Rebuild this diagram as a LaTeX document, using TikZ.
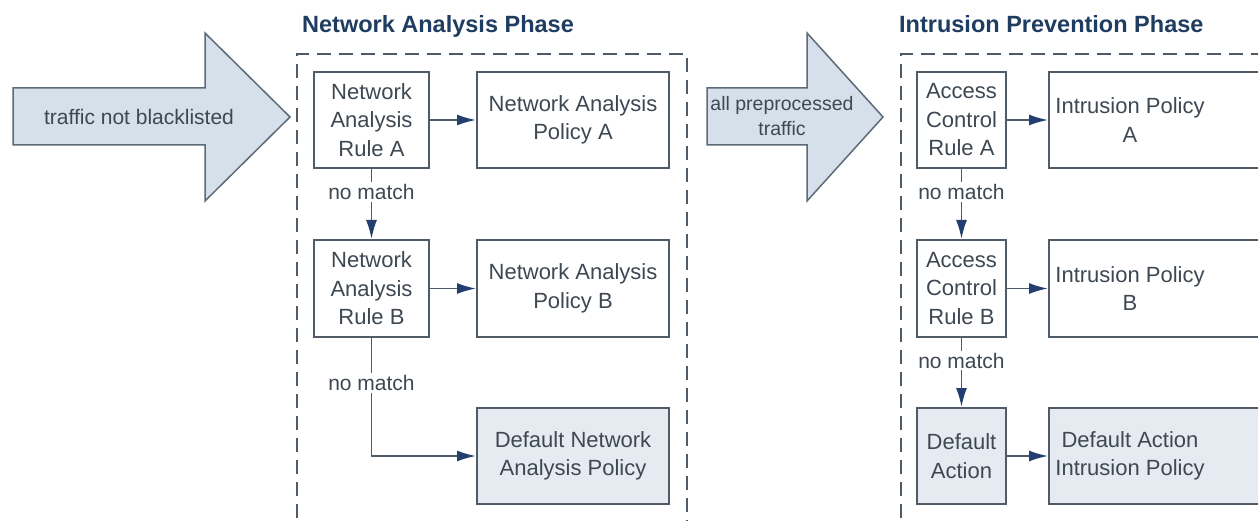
\documentclass[tikz,border=0pt]{standalone}
\usepackage{fontspec}
\setmainfont{Liberation Sans}
\usetikzlibrary{arrows.meta}
\definecolor{linec}{HTML}{4F5B66}
\definecolor{txtc}{HTML}{3E4852}
\definecolor{titlec}{HTML}{1F3C61}
\definecolor{arrc}{HTML}{223F70}
\definecolor{boxfill}{HTML}{E6EBF1}
\definecolor{bigfill}{HTML}{D6E0EA}
\definecolor{bigline}{HTML}{5D6B78}
\tikzset{
  box/.style={draw=linec, line width=2pt, rectangle, inner sep=0pt, align=center,
    text=txtc, font=\fontsize{22}{28.5}\selectfont},
  shaded/.style={box, fill=boxfill},
  plain/.style={inner sep=0pt, align=center, text=txtc, font=\fontsize{22}{28.5}\selectfont},
  lbl/.style={fill=white, inner sep=2pt, text=txtc, font=\fontsize{21}{24}\selectfont},
  conn/.style={draw=linec, line width=1.8pt},
  arr/.style={conn, -{Latex[length=19pt,width=11pt,color=arrc]}},
  phase/.style={draw=linec, line width=1.8pt, dash pattern=on 14pt off 8pt},
  title/.style={anchor=base west, inner sep=0pt, text=titlec, font=\bfseries\fontsize{23.5}{26}\selectfont},
  bigarrow/.style={draw=bigline, line width=1.5pt, fill=bigfill}
}
\begin{document}
\begin{tikzpicture}[x=1pt,y=-1pt]
\clip (0,0) rectangle (1258,521);
\fill[white] (0,0) rectangle (1258,521);

% big arrows
\draw[bigarrow] (13,88) -- (205,88) -- (205,33) -- (290,117) -- (205,201) -- (205,145) -- (13,145) -- cycle;
\node[plain, font=\fontsize{21}{24}\selectfont] (t1) at (139,117) {traffic not blacklisted};
\draw[bigarrow] (707,88) -- (807,88) -- (807,33) -- (883,117) -- (807,201) -- (807,145) -- (707,145) -- cycle;
\node[plain, font=\fontsize{19.5}{25.5}\selectfont] (t2) at (782,116) {all preprocessed\\traffic};

% titles
\node[title] (ph1) at (302,33) {Network Analysis Phase};
\node[title] (ph2) at (899,33) {Intrusion Prevention Phase};

% dashed phase boxes
\draw[phase] (297,540) -- (297,54) -- (687,54) -- (687,540);
\draw[phase] (901,540) -- (901,54) -- (1280,54);

% network analysis phase
\node[box, minimum width=115, minimum height=96] (ra) at (371.5,120) {Network\\Analysis\\Rule A};
\node[box, minimum width=192, minimum height=96] (pa) at (573,120) {Network Analysis\\Policy A};
\node[box, minimum width=115, minimum height=97] (rb) at (371.5,288.5) {Network\\Analysis\\Rule B};
\node[box, minimum width=192, minimum height=97] (pb) at (573,288.5) {Network Analysis\\Policy B};
\node[shaded, minimum width=192, minimum height=96] (dn) at (573,456) {Default Network\\Analysis Policy};

\draw[arr] (ra.east) -- (pa.west);
\draw[arr] (rb.east) -- (pb.west);
\draw[arr] (ra.south) -- node[lbl, pos=0.33] (nm1) {no match} (rb.north);
\draw[arr] (rb.south) |- node[lbl, pos=0.19] (nm2) {no match} (dn.west);

% intrusion prevention phase
\node[box, minimum width=89, minimum height=96] (ca) at (961.5,120) {Access\\Control\\Rule A};
\node[box, minimum width=240, minimum height=96] (ia) at (1169,120) {};
\node[plain] (iat) at (1130,120) {Intrusion Policy\\A};
\node[box, minimum width=89, minimum height=97] (cb) at (961.5,288.5) {Access\\Control\\Rule B};
\node[box, minimum width=240, minimum height=97] (ib) at (1169,288.5) {};
\node[plain] (ibt) at (1130,288.5) {Intrusion Policy\\B};
\node[shaded, minimum width=89, minimum height=96] (da) at (961.5,456) {Default\\Action};
\node[shaded, minimum width=240, minimum height=96] (di) at (1169,456) {};
\node[plain] (dit) at (1130,456) {Default Action\\Intrusion Policy};

\draw[arr] (ca.east) -- (ia.west);
\draw[arr] (cb.east) -- (ib.west);
\draw[arr] (da.east) -- (di.west);
\draw[arr] (ca.south) -- node[lbl, pos=0.33] (nm3) {no match} (cb.north);
\draw[arr] (cb.south) -- node[lbl, pos=0.33] (nm4) {no match} (da.north);
\end{tikzpicture}
\end{document}
